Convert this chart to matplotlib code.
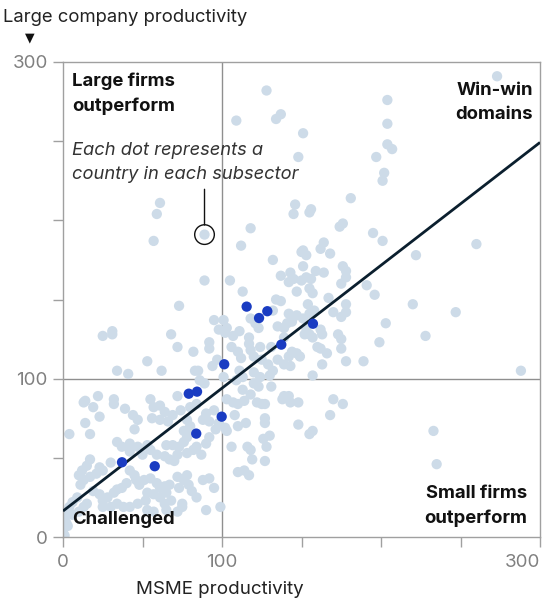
import matplotlib
matplotlib.use("Agg")
import matplotlib.pyplot as plt

plt.rcParams['font.family'] = ['Inter', 'DejaVu Sans']

# ---------------- data ----------------
gray_pts = [
    (128,282),(109,263),(134,264),(137,267),(151,255),(148,240),(61,211),(59,204),(57,187),(89,191),
    (118,195),(112,184),(146,210),(145,204),(150,180),(273,291),(204,276),(204,261),(204,248),(207,245),
    (197,240),(202,230),(201,225),(181,214),(156,207),(155,205),(176,198),(174,196),(195,192),(201,187),
    (260,185),(164,186),(162,182),(168,179),(222,178),(220,147),(247,142),(203,135),(199,123),(228,127),
    (288,105),(233,67),(235,46),
    (89,162),(73,146),(95,137),(98,131),(25,127),(31,128),(31,130),(68,128),(72,120),(82,117),(92,123),
    (92,119),(97,112),(53,111),(94,108),(34,105),(41,103),(62,105),(83,105),(85,105),(86,99),(89,97),
    (22,89),(32,87),(55,87),(72,89),(14,86),
    (132,175),(151,181),(153,178),(105,162),(137,165),(143,167),(145,163),(142,161),(151,171),(153,164),
    (150,162),(156,163),(159,168),(164,167),(176,171),(178,168),(175,160),(178,164),(191,159),(196,153),
    (113,155),(147,155),(155,157),(157,154),(134,150),(137,149),(154,147),(167,151),(178,147),(178,142),
    (170,142),(175,139),(132,143),(142,141),(147,140),(118,138),(121,135),(123,132),(135,133),(139,132),
    (141,135),(144,136),(151,138),(155,141),(158,143),(101,137),(103,132),(102,129),(111,130),(107,127),
    (117,126),(117,122),(124,120),(131,120),(139,126),(153,132),(155,128),(152,128),(157,126),(162,131),
    (163,128),(173,128),(175,125),(160,120),(162,119),(166,116),(175,119),(178,111),(189,111),(163,109),
    (144,117),(147,116),(142,114),(149,114),(135,112),(139,109),(143,108),(157,102),(106,120),(110,117),
    (112,113),(118,118),(120,114),(125,112),(129,109),(132,105),(130,102),(120,104),(124,101),(111,105),
    (113,101),(109,99),(101,101),(120,97),(123,95),(131,95),(113,93),(118,90),(139,89),(142,89),(170,87),
    (103,87),(107,85),(110,84),(114,86),(122,85),(125,84),(127,84),(138,87),(143,85),(148,85),(176,84),
    (108,77),(168,77),(127,75),(127,72),(115,72),(110,70),(148,71),(103,67),(102,69),(155,65),(157,67),
    (130,64),(126,62),(106,57),(116,57),(118,55),(128,57),(119,49),(127,48),(110,41),(114,42),(117,39),
    (13,85),(19,82),(23,76),(14,72),(4,65),(17,65),(32,84),(39,81),(44,77),(47,74),(57,82),(61,83),
    (64,79),(56,75),(61,74),(66,73),(69,77),(74,80),(80,82),(84,84),(45,68),(42,59),(47,57),(34,60),
    (37,57),(53,58),(55,55),(59,52),(50,52),(42,54),(65,58),(69,58),(73,57),(76,60),(78,63),(64,51),
    (67,49),(72,52),(70,48),(78,53),(82,55),(84,57),(87,52),(90,59),(92,63),(96,68),(98,72),(92,73),
    (88,74),(90,78),(95,80),(78,74),(80,70),(76,67),(80,66),(17,49),(15,45),(12,42),(10,39),(30,47),
    (25,42),(21,40),(17,38),(13,36),(11,33),(42,42),(45,39),(46,36),(51,36),(48,33),(40,34),(37,31),
    (34,30),(32,28),(28,25),(25,23),(23,27),(19,29),(55,37),(59,34),(61,31),(64,32),(67,33),(65,28),
    (61,25),(57,27),(53,28),(52,23),(47,21),(72,38),(76,36),(78,39),(73,31),(79,33),(81,29),(84,25),
    (88,36),(92,37),(95,31),(75,21),(68,23),(64,21),(65,17),(90,17),(99,19),(42,19),(38,19),(34,21),
    (30,19),(25,19),(9,25),(6,22),(4,19),(2,16),(13,19),(15,21),(10,16),(6,14),(53,17),(57,16),(1,13),
    (2,9),(0,4),(1,1),(3,7),(72,16),(75,19),(23,44),
]
gray_x = [p[0] for p in gray_pts]
gray_y = [p[1] for p in gray_pts]

blue_x = [115.5, 123.3, 128.5, 157.2, 137.3, 101.4, 79.1, 84.3, 99.8, 83.8, 37.1, 57.7]
blue_y = [145.5, 138.3, 142.6, 134.7, 121.5, 109.1, 90.5, 91.8, 76.0, 65.3, 47.2, 44.7]

fit_x = [0, 300]
fit_intercept = 16.4
fit_slope = 0.776
fit_y = [fit_intercept + fit_slope * v for v in fit_x]

note_point = (89, 191)

tick_vals = [0, 50, 100, 150, 200, 250, 300]
tick_labels = ['0', '', '100', '', '', '', '300']

# ---------------- figure ----------------
W, H = 543, 600
fig = plt.figure(figsize=(W / 100, H / 100), dpi=100)
ax = fig.add_axes([63 / W, 1 - 537 / H, 477 / W, 475 / H])

def px(x, y):
    return x / W, 1 - y / H

frame_c = '#a0a0a0'
ax.set_xlim(0, 300)
ax.set_ylim(0, 300)
for s in ax.spines.values():
    s.set_color(frame_c)
    s.set_linewidth(1.0)

ax.axvline(100, color='#8f8f8f', lw=1.0, zorder=1)
ax.axhline(100, color='#8f8f8f', lw=1.0, zorder=1)

ax.scatter(gray_x, gray_y, s=55, color='#cddbe8', edgecolors='none', zorder=2)
ax.plot(fit_x, fit_y, color='#0b1f2e', lw=2.0, zorder=3, solid_capstyle='butt')
ax.scatter(blue_x, blue_y, s=55, color='#1a3cc2', edgecolors='none', zorder=4)

# annotation circle and leader
ax.scatter([note_point[0]], [note_point[1]], s=200, facecolors='none',
           edgecolors='#111111', linewidths=1.0, zorder=5)
ax.annotate('', xy=note_point, xytext=(0, 32.6), textcoords='offset points',
            arrowprops=dict(arrowstyle='-', color='#111111', lw=1.0,
                            shrinkA=0, shrinkB=6.9), zorder=5)

ax.set_xticks(tick_vals)
ax.set_xticklabels(tick_labels)
ax.set_yticks(tick_vals)
ax.set_yticklabels(tick_labels)
ax.tick_params(axis='both', direction='out', length=7, width=1.0, color=frame_c,
               labelcolor='#808080', labelsize=13.5)
ax.tick_params(axis='x', pad=5)
ax.tick_params(axis='y', pad=4)
xl = ax.get_xticklabels()
xl[-1].set_horizontalalignment('right')

# ---------------- texts ----------------
fig.text(*px(3, 17), 'Large company productivity', fontsize=13.3, color='#222222',
         ha='left', va='center')
fig.text(*px(30, 38), '▼', fontsize=9, color='#111111', ha='center', va='center',
         family='DejaVu Sans')
fig.text(*px(220, 589), 'MSME productivity', fontsize=13.5, color='#222222',
         ha='center', va='center')

bold_kw = dict(fontsize=13.3, fontweight='bold', color='#111111', linespacing=1.55)
fig.text(*px(72, 73), 'Large firms\noutperform', ha='left', va='top', **bold_kw)
fig.text(*px(533, 82), 'Win-win\ndomains', ha='right', va='top', **bold_kw)
fig.text(*px(527, 485), 'Small firms\noutperform', ha='right', va='top', **bold_kw)
fig.text(*px(72, 511), 'Challenged', ha='left', va='top', **bold_kw)

fig.text(*px(72, 142), 'Each dot represents a\ncountry in each subsector', fontsize=13.2,
         style='italic', color='#333333', ha='left', va='top', linespacing=1.55)

fig.savefig('out.png', dpi=100)
